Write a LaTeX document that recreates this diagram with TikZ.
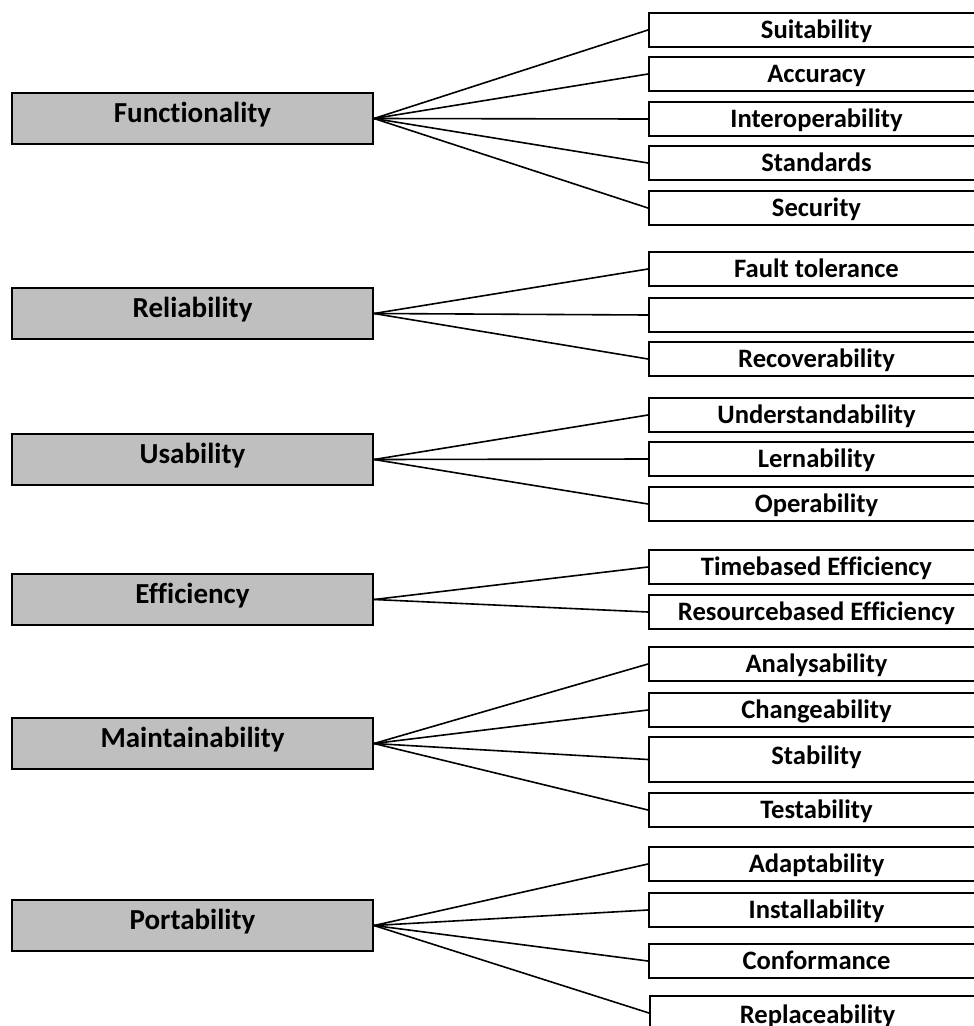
\documentclass[tikz,border=0pt]{standalone}
\usepackage{fontspec}
\setmainfont[Ligatures=NoCommon]{Carlito}
\definecolor{catgray}{RGB}{191,191,191}
\begin{document}
\begin{tikzpicture}[x=1pt,y=-1pt,
  conn/.style={line width=1.6pt},
  cat/.style={draw, line width=2pt, fill=catgray, anchor=north west,
    minimum width=361pt, minimum height=51pt, inner sep=0pt,
    text height=7pt, text depth=0pt,
    font=\fontsize{29}{31}\selectfont\bfseries},
  sub/.style={draw, line width=2pt, fill=white, anchor=north west,
    minimum width=335pt, minimum height=34pt, inner sep=0pt,
    text height=16pt, text depth=0pt,
    font=\fontsize{26.6}{28}\selectfont\bfseries},
]
\useasboundingbox (0,0) rectangle (974,1026);
\clip (0,0) rectangle (974,1026);

% main characteristics
\node[cat] (fun) at (11,92)  {Functionality};
\node[cat] (rel) at (11,287) {Reliability};
\node[cat] (usa) at (11,433) {Usability};
\node[cat] (eff) at (11,573) {Efficiency};
\node[cat] (mai) at (11,717) {Maintainability};
\node[cat] (por) at (11,899) {Portability};

% sub-characteristics
\node[sub] (f1) at (648,12)  {Suitability};
\node[sub] (f2) at (648,56)  {Accuracy};
\node[sub] (f3) at (648,101) {Interoperability};
\node[sub] (f4) at (648,145) {Standards};
\node[sub] (f5) at (648,190) {Security};

\node[sub] (r1) at (648,251) {Fault tolerance};
\node[sub] (r2) at (648,297) {};
\node[sub] (r3) at (648,341) {Recoverability};

\node[sub] (u1) at (648,397) {Understandability};
\node[sub] (u2) at (648,441) {Lernability};
\node[sub] (u3) at (648,486) {Operability};

\node[sub] (e1) at (648,549) {Timebased Efficiency};
\node[sub] (e2) at (648,594) {Resourcebased Efficiency};

\node[sub] (m1) at (648,646) {Analysability};
\node[sub] (m2) at (648,692) {Changeability};
\node[sub, minimum height=45pt, text height=9pt] (m3) at (648,736) {Stability};
\node[sub] (m4) at (648,792) {Testability};

\node[sub] (p1) at (648,846) {Adaptability};
\node[sub] (p2) at (648,892) {Installability};
\node[sub] (p3) at (648,943) {Conformance};
\node[sub, text height=20pt] (p4) at (649,995) {Replaceability};

% connectors
\foreach \s in {f1,f2,f3,f4,f5} \draw[conn] (fun.east) -- (\s.west);
\foreach \s in {r1,r2,r3} \draw[conn] (rel.east) -- (\s.west);
\foreach \s in {u1,u2,u3} \draw[conn] (usa.east) -- (\s.west);
\foreach \s in {e1,e2} \draw[conn] (eff.east) -- (\s.west);
\foreach \s in {m1,m2,m3,m4} \draw[conn] (mai.east) -- (\s.west);
\foreach \s in {p1,p2,p3,p4} \draw[conn] (por.east) -- (\s.west);
\end{tikzpicture}
\end{document}
